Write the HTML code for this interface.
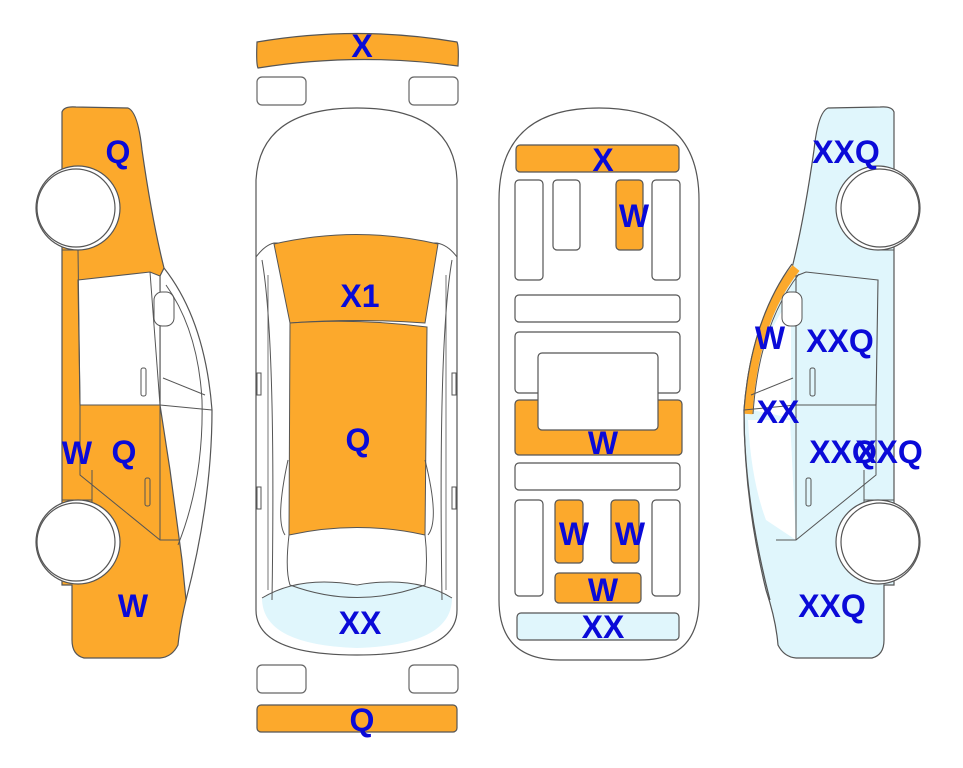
<!DOCTYPE html>
<html><head><meta charset="utf-8"><style>
html,body{margin:0;padding:0;background:#fff;}
svg{display:block;}
text{font-family:"Liberation Sans",sans-serif;font-weight:bold;font-size:32px;fill:#0a0ad8;text-anchor:middle;}
</style></head><body>
<svg width="963" height="768" viewBox="0 0 963 768" xmlns="http://www.w3.org/2000/svg">
<defs>
<g id="side">
  <path d="M62,112 Q64,106 76,107 L128,108 Q138,112 142,150 Q152,220 164,268 Q205,320 212,410 Q212,500 190,590 Q180,620 178,645 Q172,657 160,658 L84,658 Q72,655 72,640 L72,585 L62,585 Z" fill="#fff" stroke="#555" stroke-width="1.3"/>
</g>
</defs>

<!-- LEFT CAR -->
<path d="M62,112 Q64,106 76,107 L128,108 Q138,112 142,150 Q152,220 164,268 L160,276 L160,405 L170,470 L182,560 L186,600 Q180,625 178,645 Q172,657 160,658 L84,658 Q72,655 72,640 L72,585 L62,585 Z" fill="#fca92c" stroke="#555" stroke-width="1.2"/>
<path d="M164,268 Q205,320 212,410 Q212,500 186,600" fill="none" stroke="#555" stroke-width="1.2"/>
<path d="M166,285 Q198,330 202,400 Q204,480 178,545" fill="none" stroke="#555" stroke-width="1"/>
<path d="M78,280 L150,272 L160,276 L160,405 L80,405 Z" fill="#fff" stroke="#555" stroke-width="1.1"/>
<path d="M150,272 L160,405" stroke="#555" stroke-width="1"/>
<rect x="154" y="292" width="20" height="34" rx="8" fill="#fff" stroke="#555"/>
<path d="M160,405 L212,410 M163,378 L205,395" stroke="#555" stroke-width="1"/>
<path d="M80,405 L80,475 L160,540 L180,540" fill="none" stroke="#555" stroke-width="1"/>
<path d="M160,405 L160,540 M92,470 L92,520" stroke="#555" stroke-width="1"/>
<path d="M62,250 L76,250 M62,500 L92,500 M78,250 L80,405" stroke="#555" stroke-width="1"/>
<rect x="141" y="368" width="5" height="28" rx="2" fill="none" stroke="#555"/>
<rect x="145" y="478" width="5" height="28" rx="2" fill="none" stroke="#555"/>
<circle cx="78" cy="208" r="42" fill="#fff" stroke="#555" stroke-width="1.2"/>
<circle cx="76" cy="208" r="39" fill="#fff" stroke="#555" stroke-width="1.2"/>
<circle cx="78" cy="542" r="42" fill="#fff" stroke="#555" stroke-width="1.2"/>
<circle cx="76" cy="542" r="39" fill="#fff" stroke="#555" stroke-width="1.2"/>

<!-- RIGHT CAR (mirrored) -->
<g transform="translate(956,0) scale(-1,1)">
<path d="M62,112 Q64,106 76,107 L128,108 Q138,112 142,150 Q152,220 164,268 Q205,320 212,410 Q212,500 190,590 Q180,620 178,645 Q172,657 160,658 L84,658 Q72,655 72,640 L72,585 L62,585 Z" fill="#e0f6fc" stroke="#555" stroke-width="1.2"/>
<path d="M166,300 Q198,340 204,410 L165,418 L165,285 Z" fill="#fff"/>
<path d="M166,420 L208,420 Q205,480 190,520 L160,540 Z" fill="#fff"/>
<path d="M160,268 Q202,320 208,414" fill="none" stroke="#fca92c" stroke-width="9"/>
<path d="M164,264 Q205,320 212,410 Q212,500 186,600" fill="none" stroke="#555" stroke-width="1.2"/>
<path d="M157,274 Q197,325 203,414" fill="none" stroke="#555" stroke-width="1"/>
<path d="M78,280 L150,272 L160,276 L160,405 L80,405 Z" fill="none" stroke="#555" stroke-width="1.1"/>
<rect x="154" y="292" width="20" height="34" rx="8" fill="#fff" stroke="#555"/>
<path d="M160,405 L212,410 M163,378 L205,395" stroke="#555" stroke-width="1"/>
<path d="M80,405 L80,475 L160,540 L180,540" fill="none" stroke="#555" stroke-width="1"/>
<path d="M160,405 L160,540 M92,470 L92,520" stroke="#555" stroke-width="1"/>
<path d="M62,250 L76,250 M62,500 L92,500" stroke="#555" stroke-width="1"/>
<rect x="141" y="368" width="5" height="28" rx="2" fill="none" stroke="#555"/>
<rect x="145" y="478" width="5" height="28" rx="2" fill="none" stroke="#555"/>
<circle cx="78" cy="208" r="42" fill="#fff" stroke="#555" stroke-width="1.2"/>
<circle cx="76" cy="208" r="39" fill="#fff" stroke="#555" stroke-width="1.2"/>
<circle cx="78" cy="542" r="42" fill="#fff" stroke="#555" stroke-width="1.2"/>
<circle cx="76" cy="542" r="39" fill="#fff" stroke="#555" stroke-width="1.2"/>
</g>

<!-- TOP VIEW CAR -->
<path d="M257,42 Q357,25 457,42 Q459,46 458,66 Q357,52 258,68 Q256,64 257,42 Z" fill="#fca92c" stroke="#555" stroke-width="1.2"/>
<rect x="257" y="77" width="49" height="28" rx="5" fill="#fff" stroke="#666" stroke-width="1.2"/>
<rect x="409" y="77" width="49" height="28" rx="5" fill="#fff" stroke="#666" stroke-width="1.2"/>
<rect x="257" y="665" width="49" height="28" rx="5" fill="#fff" stroke="#666" stroke-width="1.2"/>
<rect x="409" y="665" width="49" height="28" rx="5" fill="#fff" stroke="#666" stroke-width="1.2"/>
<rect x="257" y="705" width="200" height="27" rx="4" fill="#fca92c" stroke="#555" stroke-width="1.2"/>

<path d="M256,180 Q260,108 357,108 Q454,108 457,180 L457,610 Q457,655 357,655 Q256,655 256,610 Z" fill="#fff" stroke="#555" stroke-width="1.2"/>
<path d="M262,598 Q300,575 357,585 Q415,575 452,598 Q452,645 357,648 Q262,645 262,598 Z" fill="#e0f6fc"/>
<path d="M262,598 Q300,575 357,585 Q415,575 452,598" fill="none" stroke="#555" stroke-width="1"/>
<path d="M256,257 Q265,245 274,243 L437,243 Q448,245 457,257" fill="none" stroke="#555" stroke-width="1"/>
<path d="M274,244 Q357,225 438,244 L425,323 Q357,318 290,323 Z" fill="#fca92c" stroke="#555" stroke-width="1"/>
<path d="M290,323 Q357,318 427,327 L425,535 Q357,520 289,535 Z" fill="#fca92c" stroke="#555" stroke-width="1"/>
<path d="M289,535 Q285,570 290,585 Q357,610 425,585 Q428,560 425,535" fill="none" stroke="#555" stroke-width="1"/>
<path d="M262,260 Q276,340 272,600 M452,260 Q438,340 442,600" fill="none" stroke="#555" stroke-width="1"/>
<path d="M268,275 L268,590 M446,275 L446,590" fill="none" stroke="#555" stroke-width="0.8"/>
<path d="M288,460 Q275,520 285,535 M425,460 Q440,520 428,535" fill="none" stroke="#555" stroke-width="1"/>
<rect x="257" y="373" width="4" height="22" fill="none" stroke="#555"/>
<rect x="452" y="373" width="4" height="22" fill="none" stroke="#555"/>
<rect x="257" y="487" width="4" height="22" fill="none" stroke="#555"/>
<rect x="452" y="487" width="4" height="22" fill="none" stroke="#555"/>

<!-- INTERIOR -->
<path d="M499,200 Q499,108 599,108 Q699,108 699,200 L699,600 Q699,660 640,660 L560,660 Q499,660 499,600 Z" fill="#fff" stroke="#555" stroke-width="1.2"/>
<g stroke="#555" stroke-width="1.2">
<rect x="516" y="145" width="163" height="27" rx="4" fill="#fca92c"/>
<rect x="515" y="180" width="28" height="100" rx="4" fill="#fff"/>
<rect x="553" y="180" width="27" height="70" rx="4" fill="#fff"/>
<rect x="616" y="180" width="27" height="70" rx="4" fill="#fca92c"/>
<rect x="652" y="180" width="28" height="100" rx="4" fill="#fff"/>
<rect x="515" y="295" width="165" height="27" rx="4" fill="#fff"/>
<rect x="515" y="332" width="165" height="61" rx="4" fill="#fff"/>
<rect x="515" y="400" width="167" height="55" rx="4" fill="#fca92c"/>
<rect x="538" y="353" width="120" height="77" rx="4" fill="#fff"/>
<rect x="515" y="463" width="165" height="27" rx="4" fill="#fff"/>
<rect x="515" y="500" width="28" height="96" rx="4" fill="#fff"/>
<rect x="555" y="500" width="28" height="63" rx="4" fill="#fca92c"/>
<rect x="611" y="500" width="28" height="63" rx="4" fill="#fca92c"/>
<rect x="652" y="500" width="28" height="96" rx="4" fill="#fff"/>
<rect x="555" y="573" width="86" height="30" rx="4" fill="#fca92c"/>
<rect x="517" y="613" width="162" height="27" rx="4" fill="#e0f6fc"/>
</g>

<!-- LABELS -->
<text x="118" y="163">Q</text>
<text x="77" y="464">W</text>
<text x="124" y="463">Q</text>
<text x="133" y="617">W</text>
<text x="362" y="57">X</text>
<text x="360" y="307">X1</text>
<text x="358" y="451">Q</text>
<text x="360" y="634">XX</text>
<text x="362" y="731">Q</text>
<text x="603" y="171">X</text>
<text x="634" y="227">W</text>
<text x="603" y="454">W</text>
<text x="574" y="545">W</text>
<text x="630" y="545">W</text>
<text x="603" y="601">W</text>
<text x="603" y="638">XX</text>
<text x="846" y="163">XXQ</text>
<text x="770" y="349">W</text>
<text x="840" y="352">XXQ</text>
<text x="778" y="423">XX</text>
<text x="843" y="463">XXQ</text>
<text x="889" y="463">XXQ</text>
<text x="832" y="617">XXQ</text>
</svg>
</body></html>
